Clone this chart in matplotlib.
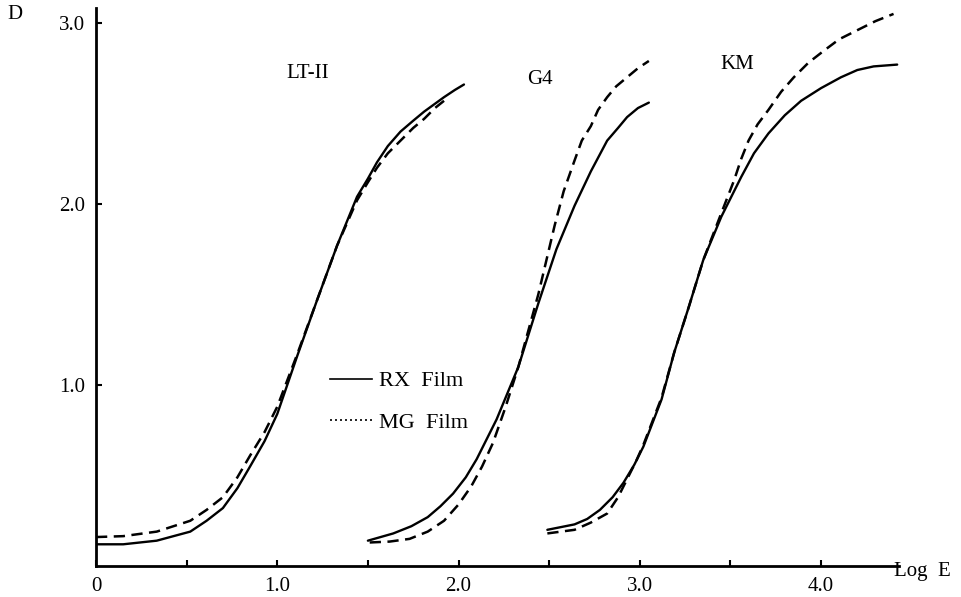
import matplotlib
matplotlib.use("Agg")
import matplotlib.pyplot as plt
from matplotlib.lines import Line2D

plt.rcParams["font.family"] = ["Liberation Serif", "DejaVu Serif"]

# characteristic curves (x = Log E, y = D)
lt_rx_x = [0.00, 0.15, 0.335, 0.52, 0.61, 0.70, 0.78, 0.85, 0.93, 1.00, 1.11, 1.22, 1.33,
           1.44, 1.50, 1.55, 1.61, 1.68, 1.75, 1.81, 1.92, 1.98, 2.03]
lt_rx_d = [0.12, 0.12, 0.14, 0.19, 0.25, 0.32, 0.43, 0.55, 0.69, 0.84, 1.16, 1.47, 1.77,
           2.04, 2.14, 2.23, 2.32, 2.40, 2.46, 2.51, 2.59, 2.63, 2.66]
lt_mg_x = [0.00, 0.15, 0.335, 0.52, 0.61, 0.70, 0.78, 0.85, 0.93, 1.00, 1.11, 1.22, 1.33,
           1.44, 1.50, 1.55, 1.61, 1.68, 1.75, 1.81, 1.87, 1.92]
lt_mg_d = [0.16, 0.165, 0.19, 0.25, 0.31, 0.38, 0.49, 0.61, 0.74, 0.88, 1.17, 1.47, 1.77,
           2.02, 2.12, 2.20, 2.28, 2.35, 2.42, 2.47, 2.53, 2.57]

g4_rx_x = [1.50, 1.64, 1.74, 1.83, 1.90, 1.97, 2.04, 2.10, 2.21, 2.33, 2.44, 2.54, 2.64,
           2.73, 2.82, 2.88, 2.93, 2.99, 3.05]
g4_rx_d = [0.14, 0.18, 0.22, 0.27, 0.33, 0.40, 0.49, 0.59, 0.81, 1.10, 1.45, 1.75, 1.99,
           2.18, 2.35, 2.42, 2.48, 2.53, 2.56]
g4_mg_x = [1.51, 1.62, 1.73, 1.83, 1.92, 2.00, 2.07, 2.13, 2.19, 2.26, 2.33, 2.44, 2.53,
           2.58, 2.64, 2.68, 2.73, 2.77, 2.82, 2.87, 2.93, 2.99, 3.05]
g4_mg_d = [0.13, 0.135, 0.15, 0.19, 0.25, 0.34, 0.44, 0.55, 0.68, 0.88, 1.10, 1.50, 1.88,
           2.07, 2.24, 2.35, 2.43, 2.52, 2.59, 2.65, 2.70, 2.75, 2.79]

km_rx_x = [2.49, 2.64, 2.71, 2.78, 2.85, 2.91, 2.97, 3.02, 3.12, 3.19, 3.27, 3.35, 3.45,
           3.56, 3.63, 3.71, 3.80, 3.89, 4.00, 4.11, 4.20, 4.29, 4.42]
km_rx_d = [0.20, 0.23, 0.26, 0.31, 0.38, 0.46, 0.56, 0.66, 0.92, 1.18, 1.43, 1.69, 1.93,
           2.15, 2.28, 2.39, 2.49, 2.57, 2.64, 2.70, 2.74, 2.76, 2.77]
km_mg_x = [2.49, 2.64, 2.73, 2.82, 2.88, 2.93, 2.98, 3.02, 3.12, 3.19, 3.27, 3.35, 3.45,
           3.52, 3.56, 3.60, 3.65, 3.71, 3.78, 3.85, 3.93, 4.02, 4.10, 4.20, 4.30, 4.40]
km_mg_d = [0.18, 0.20, 0.24, 0.29, 0.38, 0.48, 0.58, 0.67, 0.93, 1.18, 1.43, 1.69, 1.95,
           2.13, 2.25, 2.35, 2.44, 2.52, 2.62, 2.70, 2.78, 2.85, 2.91, 2.96, 3.01, 3.05]

film_names = ["LT-II", "G4", "KM"]
film_label_pos = [(1.17, 2.72), (2.45, 2.69), (3.54, 2.77)]

x_ticks = [0, 1, 2, 3, 4]
x_tick_labels = ["0", "1.0", "2.0", "3.0", "4.0"]
x_minor = [0.5, 1.5, 2.5, 3.5]
y_ticks = [1, 2, 3]
y_tick_labels = ["1.0", "2.0", "3.0"]

FS = 15
DASH = (0, (4.5, 2.6))

fig = plt.figure(figsize=(9.62, 5.97), dpi=100)
ax = fig.add_axes([0.0998, 0.0519, 0.8347, 0.9339])

for xs, ds in [(lt_rx_x, lt_rx_d), (g4_rx_x, g4_rx_d), (km_rx_x, km_rx_d)]:
    ax.plot(xs, ds, color="black", lw=1.7, solid_capstyle="round",
            solid_joinstyle="round")
for xs, ds in [(lt_mg_x, lt_mg_d), (g4_mg_x, g4_mg_d), (km_mg_x, km_mg_d)]:
    ax.plot(xs, ds, color="black", lw=1.8, linestyle=DASH)

for name, (px, py) in zip(film_names, film_label_pos):
    ax.text(px, py, name, ha="center", va="center", fontsize=FS)

handles = [Line2D([], [], color="black", lw=1.2),
           Line2D([], [], color="black", lw=1.2, linestyle=(0, (1.2, 1.8)))]
ax.legend(handles, ["RX  Film", "MG  Film"], loc="upper left",
          bbox_to_anchor=(0.291, 0.35), frameon=False, fontsize=16,
          handlelength=1.9, handletextpad=0.3, labelspacing=0.95,
          borderpad=0, borderaxespad=0)

ax.set_xlim(0, 4.43)
ax.set_ylim(0, 3.08)
for side in ["top", "right"]:
    ax.spines[side].set_visible(False)
for side in ["left", "bottom"]:
    ax.spines[side].set_linewidth(2.0)

ax.set_xticks(x_ticks)
ax.set_xticklabels(x_tick_labels)
ax.set_xticks(x_minor, minor=True)
ax.set_yticks(y_ticks)
ax.set_yticklabels(y_tick_labels)
ax.tick_params(axis="both", which="both", direction="in", length=4, width=1.5,
               labelsize=FS)
ax.tick_params(axis="x", pad=8)
ax.tick_params(axis="y", pad=8)

fig.text(0.016, 0.975, "D", ha="center", va="center", fontsize=FS)
fig.text(0.959, 0.042, "Log  E", ha="center", va="center", fontsize=FS)

fig.savefig("out.png", dpi=100, facecolor="white")
